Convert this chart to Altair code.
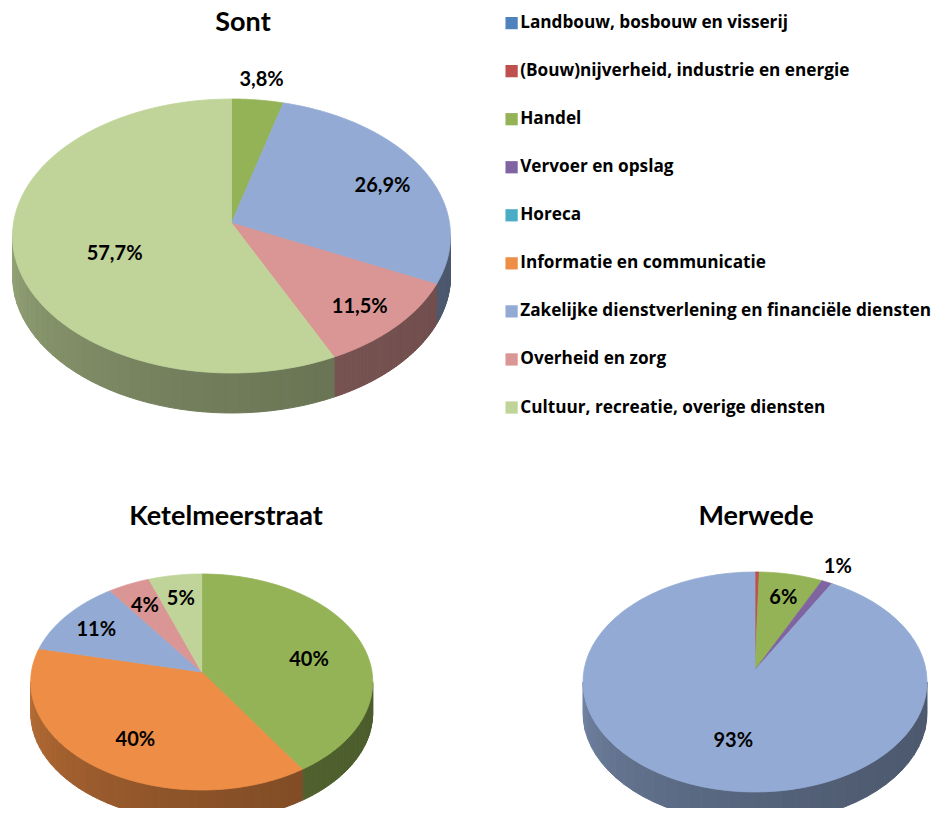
import altair as alt
import pandas as pd

# ---------------- data ----------------
categories = [
    "Landbouw, bosbouw en visserij",
    "(Bouw)nijverheid, industrie en energie",
    "Handel",
    "Vervoer en opslag",
    "Horeca",
    "Informatie en communicatie",
    "Zakelijke dienstverlening en financiële diensten",
    "Overheid en zorg",
    "Cultuur, recreatie, overige diensten",
]
colors = ["#4F81BD", "#C0504D", "#93B356", "#8064A2", "#4BACC6",
          "#EE8D45", "#93ABD4", "#D99694", "#C0D49A"]

pies = ["Sont", "Ketelmeerstraat", "Merwede"]
sont_values = [0, 0, 3.8, 0, 0, 0, 26.9, 11.5, 57.7]
sont_labels = ["", "", "3,8%", "", "", "", "26,9%", "11,5%", "57,7%"]
ketel_values = [0, 0, 40, 0, 0, 40, 11, 4, 5]
ketel_labels = ["", "", "40%", "", "", "40%", "11%", "4%", "5%"]
merwede_values = [0, 0.4, 6, 1, 0, 0, 93, 0, 0]
merwede_labels = ["", "", "6%", "1%", "", "", "93%", "", ""]

# ---------------- layout (chart pixel space) ----------------
W, H = 928, 800
layout = {
    "Sont":            dict(cx=223.5, cy=228, rx=219, ry=137, voff=13, depth=40, tx=235, ty=23),
    "Ketelmeerstraat": dict(cx=193.7, cy=674, rx=171, ry=108, voff=10, depth=31, tx=218, ty=517),
    "Merwede":         dict(cx=747,   cy=674, rx=172, ry=110, voff=12, depth=31, tx=748, ty=517),
}

rows = []
for pie, vals, labs in [("Sont", sont_values, sont_labels),
                        ("Ketelmeerstraat", ketel_values, ketel_labels),
                        ("Merwede", merwede_values, merwede_labels)]:
    for i, (c, v, l) in enumerate(zip(categories, vals, labs)):
        r = dict(pie=pie, cat=c, order=i, value=v, label=l, col=colors[i])
        r.update({k: layout[pie][k] for k in ("cx", "cy", "rx", "ry", "voff", "depth")})
        rows.append(r)
df = pd.DataFrame(rows)
titles = pd.DataFrame([dict(name=p, tx=layout[p]["tx"], ty=layout[p]["ty"]) for p in pies])

xs = alt.Scale(domain=[0, W], nice=False, zero=False)
ys = alt.Scale(domain=[0, H], nice=False, zero=False, reverse=True)
FONT = "Lato"
LEGEND_FONT = "Open Sans"

base = (
    alt.Chart(df)
    .transform_filter("datum.value > 0")
    .transform_joinaggregate(total="sum(value)", groupby=["pie"])
    .transform_window(cum="sum(value)", frame=[None, 0],
                      sort=[alt.SortField("order")], groupby=["pie"])
    .transform_calculate(
        a0="2*PI*(datum.cum - datum.value)/datum.total",
        a1="2*PI*datum.cum/datum.total",
    )
)

# side walls (front half only), drawn as shaded quads
NS = 40
sides = (
    base.transform_calculate(b0="max(datum.a0, PI/2)", b1="min(datum.a1, 3*PI/2)")
    .transform_filter("datum.b1 > datum.b0")
    .transform_calculate(i=f"sequence(0, {NS})")
    .transform_flatten(["i"])
    .transform_calculate(c="[0, 1, 2, 3]")
    .transform_flatten(["c"])
    .transform_calculate(
        t0=f"datum.b0 + (datum.b1 - datum.b0)*datum.i/{NS}",
        t1=f"datum.b0 + (datum.b1 - datum.b0)*(datum.i + 1)/{NS}",
    )
    .transform_calculate(
        t="(datum.c == 0 || datum.c == 3) ? datum.t0 : datum.t1",
        tm="(datum.t0 + datum.t1)/2",
    )
    .transform_calculate(
        px="datum.cx + datum.rx*sin(datum.t)",
        py="datum.cy - datum.ry*cos(datum.t) + (datum.c >= 2 ? datum.depth : 0)",
        shade="0.52 + 0.25*pow((datum.tm - PI/2)/PI, 2)",
        qid="datum.pie + '|' + datum.cat + '|' + datum.i",
    )
    .transform_calculate(
        sc="'rgb(' + round(rgb(datum.col).r*datum.shade) + ',' + round(rgb(datum.col).g*datum.shade) + ',' + round(rgb(datum.col).b*datum.shade) + ')'"
    )
    .mark_line(filled=True, interpolate="linear-closed", strokeWidth=1)
    .encode(
        x=alt.X("px:Q", scale=xs, axis=None),
        y=alt.Y("py:Q", scale=ys, axis=None),
        order=alt.Order("c:Q"),
        detail=alt.Detail("qid:N"),
        fill=alt.Fill("sc:N", scale=None),
        stroke=alt.Stroke("sc:N", scale=None),
    )
)

# top faces
NF = 80
faces = (
    base.transform_calculate(k=f"sequence(0, {NF + 2})")
    .transform_flatten(["k"])
    .transform_calculate(t=f"datum.a0 + (datum.a1 - datum.a0)*(datum.k - 1)/{NF}")
    .transform_calculate(
        px="datum.k == 0 ? datum.cx : datum.cx + datum.rx*sin(datum.t)",
        py="datum.k == 0 ? datum.cy - datum.voff : datum.cy - datum.ry*cos(datum.t)",
        sid="datum.pie + '|' + datum.cat",
    )
    .mark_line(filled=True, interpolate="linear-closed", strokeWidth=0.8)
    .encode(
        x=alt.X("px:Q", scale=xs, axis=None),
        y=alt.Y("py:Q", scale=ys, axis=None),
        order=alt.Order("k:Q"),
        detail=alt.Detail("sid:N"),
        fill=alt.Fill(
            "cat:N",
            scale=alt.Scale(domain=categories, range=colors),
            legend=alt.Legend(
                title=None, orient="none", legendX=495, legendY=6.5,
                symbolType="square", symbolSize=150, symbolStrokeWidth=0,
                labelFont=LEGEND_FONT, labelFontWeight="bold", labelFontSize=17.2,
                labelColor="black", labelLimit=600, labelOffset=0,
                rowPadding=30.05, padding=0, direction="vertical",
            ),
        ),
        stroke=alt.Stroke("cat:N", scale=alt.Scale(domain=categories, range=colors), legend=None),
    )
)

labels = (
    base.transform_filter("datum.label != ''")
    .transform_calculate(
        m="(datum.a0 + datum.a1)/2",
        f="datum.value < 4 ? 1.15 : (datum.value > 50 ? 0.55 : (datum.value >= 30 ? 0.66 : 0.78))",
    )
    .transform_calculate(
        lx="datum.cx + datum.rx*datum.f*sin(datum.m)",
        ly="datum.cy - datum.ry*datum.f*cos(datum.m)",
    )
    .mark_text(font=FONT, fontWeight="bold", fontSize=20, color="black")
    .encode(x=alt.X("lx:Q", scale=xs, axis=None), y=alt.Y("ly:Q", scale=ys, axis=None),
            text="label:N")
)

title_marks = (
    alt.Chart(titles)
    .mark_text(font=FONT, fontWeight="bold", fontSize=27, color="black", baseline="alphabetic")
    .encode(x=alt.X("tx:Q", scale=xs, axis=None), y=alt.Y("ty:Q", scale=ys, axis=None),
            text="name:N")
)

chart = (
    alt.layer(sides, faces, labels, title_marks)
    .properties(width=W, height=H, padding=0, autosize="none")
    .configure_view(stroke=None)
)

chart.save("out.html", embed_options={"renderer": "svg", "actions": False})
